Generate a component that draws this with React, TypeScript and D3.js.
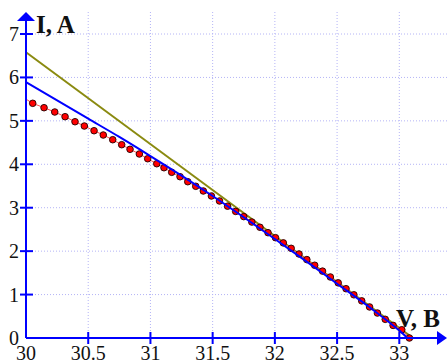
import React from "react";
import { scaleLinear, line, curveMonotoneX } from "d3";

const width = 448;
const height = 360;

// measured I-V points (V, I)
const measV = [
  30.054, 30.145, 30.231, 30.314, 30.394, 30.469, 30.547, 30.621, 30.697, 30.769,
  30.836, 30.911, 30.978, 31.051, 31.109, 31.171, 31.238, 31.3, 31.364, 31.425,
  31.49, 31.555, 31.62, 31.685, 31.75, 31.815, 31.88, 31.945, 32.005, 32.068,
  32.131, 32.194, 32.257, 32.32, 32.383, 32.446, 32.509, 32.572, 32.635, 32.698,
  32.761, 32.824, 32.887, 32.95, 33.02, 33.081,
];
const measI = [
  5.404, 5.303, 5.204, 5.096, 4.98, 4.881, 4.773, 4.674, 4.566, 4.451,
  4.345, 4.237, 4.128, 4.013, 3.921, 3.815, 3.714, 3.599, 3.493, 3.385,
  3.27, 3.155, 3.035, 2.915, 2.795, 2.67, 2.55, 2.425, 2.31, 2.19,
  2.065, 1.935, 1.805, 1.675, 1.54, 1.405, 1.27, 1.135, 0.995, 0.855,
  0.715, 0.575, 0.43, 0.29, 0.19, 0.0,
];
// thin red line starts at the axis
const measLineStart = { v: 30, i: 5.5 };

// model curve (blue)
const modelV = [30, 30.5, 30.75, 31, 31.25, 31.5, 31.75, 32, 32.25, 32.5, 32.75, 33, 33.065];
const modelI = [5.89, 5.05, 4.63, 4.19, 3.74, 3.27, 2.78, 2.28, 1.77, 1.25, 0.73, 0.17, 0];

// straight line (olive)
const lineV = [30, 33.11];
const lineI = [6.58, 0];

const xTicks = [30, 30.5, 31, 31.5, 32, 32.5, 33];
const yTicks = [0, 1, 2, 3, 4, 5, 6, 7];

const x = scaleLinear().domain([30, 33]).range([26, 399.3]);
const y = scaleLinear().domain([0, 7]).range([338, 34]);

type P = { v: number; i: number };

const App = () => {
  const meas: P[] = measV.map((v, k) => ({ v, i: measI[k] }));
  const model: P[] = modelV.map((v, k) => ({ v, i: modelI[k] }));
  const olive: P[] = lineV.map((v, k) => ({ v, i: lineI[k] }));

  const path = line<P>()
    .x((d) => x(d.v))
    .y((d) => y(d.i));
  const smooth = line<P>()
    .x((d) => x(d.v))
    .y((d) => y(d.i))
    .curve(curveMonotoneX);

  const x0 = x(30);
  const y0 = y(0);
  const font = "'Liberation Serif', 'Times New Roman', serif";

  return (
    <svg
      width={width}
      height={height}
      style={{ position: "absolute", left: 0, top: 0, background: "#fff" }}
    >
      {/* grid */}
      <g stroke="#b4b4f6" strokeWidth={1} strokeDasharray="1,2">
        {xTicks.slice(1).map((t) => (
          <line key={t} x1={x(t)} x2={x(t)} y1={12} y2={y0} />
        ))}
        {yTicks.slice(1).map((t) => (
          <line key={t} x1={x0} x2={width} y1={y(t)} y2={y(t)} />
        ))}
      </g>

      {/* series */}
      <path d={path(olive) ?? ""} fill="none" stroke="#8a8a10" strokeWidth={2} />
      <path
        d={path([measLineStart, ...meas]) ?? ""}
        fill="none"
        stroke="#ff5050"
        strokeWidth={1}
      />
      {meas.map((d, k) => (
        <circle
          key={k}
          cx={x(d.v)}
          cy={y(d.i)}
          r={3.3}
          fill="#ff0000"
          stroke="#200000"
          strokeWidth={0.9}
        />
      ))}
      <path d={smooth(model) ?? ""} fill="none" stroke="#0000ff" strokeWidth={2} />

      {/* axes */}
      <g stroke="#0000ff" strokeWidth={2}>
        <line x1={x0} x2={x0} y1={y0} y2={20} />
        <line x1={x0} x2={440} y1={y0} y2={y0} />
        {yTicks.slice(1).map((t) => (
          <line key={t} x1={x0 - 6} x2={x0 + 7} y1={y(t)} y2={y(t)} />
        ))}
        {xTicks.slice(1).map((t) => (
          <line key={t} x1={x(t)} x2={x(t)} y1={y0 - 6} y2={y0 + 6} />
        ))}
      </g>
      <path d={`M${x0},12 L${x0 - 9},21 L${x0 + 9},21 Z`} fill="#0000ff" />
      <path d={`M447,${y0} L437,${y0 - 7} L437,${y0 + 7} Z`} fill="#0000ff" />

      {/* tick labels */}
      <g fontFamily={font} fontSize={20} fill="#111">
        {yTicks.map((t) => (
          <text key={t} x={19} y={y(t)} dy="0.35em" textAnchor="end">
            {t}
          </text>
        ))}
        {xTicks.map((t) => (
          <text key={t} x={x(t)} y={360} textAnchor="middle">
            {t}
          </text>
        ))}
      </g>

      {/* axis titles */}
      <g fontFamily={font} fontSize={25} fontWeight="bold" fill="#111">
        <text x={36} y={33}>
          I, A
        </text>
        <text x={396} y={327}>
          V, B
        </text>
      </g>
    </svg>
  );
};

export default App;
